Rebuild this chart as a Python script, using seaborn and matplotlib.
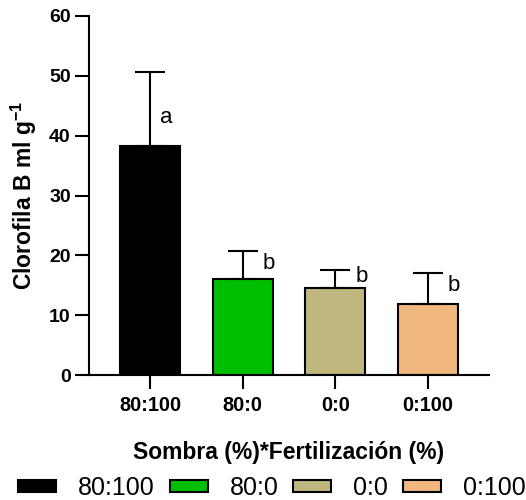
import matplotlib
matplotlib.use("Agg")
import matplotlib.pyplot as plt
import seaborn as sns
import pandas as pd
from matplotlib.patches import Patch

# Treatment data: Sombra (%) * Fertilización (%)
tratamientos = ["80:100", "80:0", "0:0", "0:100"]
clorofila_b = [38.2, 16.1, 14.5, 11.8]
desviacion = [12.5, 4.6, 3.1, 5.2]
letras = ["a", "b", "b", "b"]
colores = ["#000000", "#00BF00", "#C0B77E", "#F0B77F"]
y_ticks = [0, 10, 20, 30, 40, 50, 60]

sns.set_style("ticks")
plt.rcParams["font.family"] = ["Liberation Sans", "DejaVu Sans"]
plt.rcParams["mathtext.fontset"] = "custom"
plt.rcParams["mathtext.rm"] = "Liberation Sans"
plt.rcParams["mathtext.bf"] = "Liberation Sans:bold"
plt.rcParams["text.color"] = "black"
plt.rcParams["axes.labelcolor"] = "black"
plt.rcParams["xtick.color"] = "black"
plt.rcParams["ytick.color"] = "black"

df = pd.DataFrame({"trat": tratamientos, "valor": clorofila_b})

fig = plt.figure(figsize=(5.26, 5.0), dpi=100)
ax = fig.add_axes([0.169, 0.25, 0.761, 0.718])

sns.barplot(data=df, x="trat", y="valor", hue="trat", order=tratamientos,
            hue_order=tratamientos, palette=colores, saturation=1,
            errorbar=None, width=0.65, edgecolor="black", linewidth=1.5,
            dodge=False, legend=False, ax=ax)

# Upper-only standard deviation bars
for i, (v, sd) in enumerate(zip(clorofila_b, desviacion)):
    ax.errorbar(i, v, yerr=[[0], [sd]], fmt="none", ecolor="black",
                elinewidth=1.5, capsize=11, capthick=1.5, zorder=1)

# Significance letters
ax.text(0 + 0.18, 43.0, letras[0], ha="center", va="center", fontsize=16)
for i, ypos in zip([1, 2, 3], [18.7, 16.4, 15.0]):
    ax.text(i + 0.28, ypos, letras[i], ha="center", va="center", fontsize=16)

ax.set_xlim(-0.66, 3.66)
ax.set_ylim(0, 60)
ax.set_yticks(y_ticks)
ax.set_yticklabels([str(t) for t in y_ticks], fontweight="bold", fontsize=14)
ax.set_xticks(range(len(tratamientos)))
ax.set_xticklabels(tratamientos, fontweight="bold", fontsize=14.4)
ax.tick_params(axis="both", length=10, width=1.5, color="black")
ax.tick_params(axis="y", pad=3)
ax.tick_params(axis="x", pad=5)
for s in ["left", "bottom"]:
    ax.spines[s].set_linewidth(1.5)
    ax.spines[s].set_color("black")
sns.despine(ax=ax)

ax.set_xlabel("Sombra (%)*Fertilización (%)", fontweight="bold", fontsize=16.5,
              labelpad=19)
ax.set_ylabel(r"Clorofila B ml g$^{\mathbf{-1}}$", fontweight="bold",
              fontsize=16.5, labelpad=7)

handles = [Patch(facecolor=c, edgecolor="black", linewidth=1.5) for c in colores]
fig.legend(handles, tratamientos, loc="center", bbox_to_anchor=(0.517, 0.024),
           ncol=4, frameon=False, fontsize=18, handlelength=1.52,
           handleheight=0.34, handletextpad=0.88, columnspacing=0.6,
           borderaxespad=0, borderpad=0)

fig.savefig("out.png", dpi=100)
